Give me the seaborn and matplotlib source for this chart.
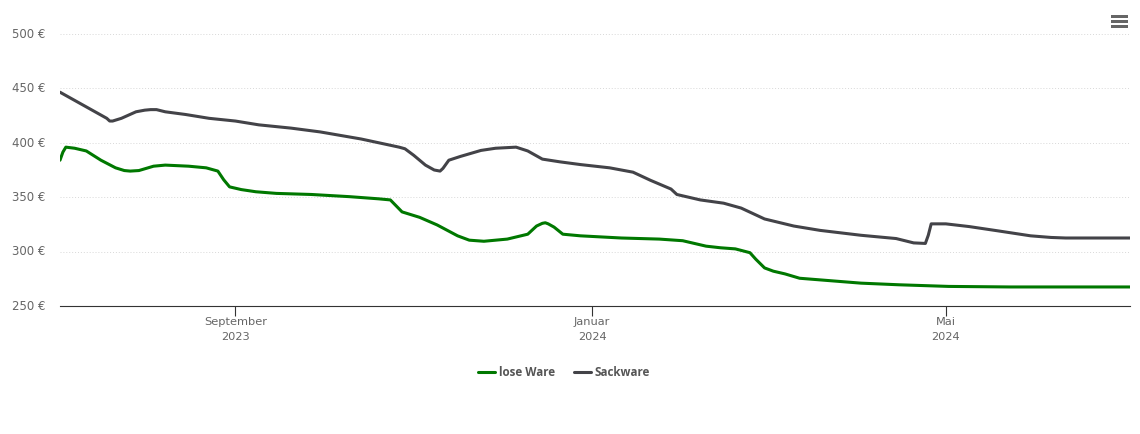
import pandas as pd
import matplotlib
matplotlib.use("Agg")
import matplotlib.pyplot as plt
from matplotlib.patches import Rectangle
from matplotlib.transforms import ScaledTranslation
import seaborn as sns

# Sackware prices
sack_dates = ["2023-07-03", "2023-07-19", "2023-07-20", "2023-07-21", "2023-07-24", "2023-07-29",
              "2023-08-01", "2023-08-03", "2023-08-05", "2023-08-08", "2023-08-15", "2023-08-23", "2023-09-01",
              "2023-09-09", "2023-09-20", "2023-09-30", "2023-10-14", "2023-10-27", "2023-10-29",
              "2023-11-01", "2023-11-05", "2023-11-08", "2023-11-10", "2023-11-11", "2023-11-13",
              "2023-11-17", "2023-11-24", "2023-11-29", "2023-12-06", "2023-12-10", "2023-12-15",
              "2023-12-21", "2023-12-28", "2024-01-07", "2024-01-15", "2024-01-21", "2024-01-28",
              "2024-01-30", "2024-02-07", "2024-02-15", "2024-02-21", "2024-02-25", "2024-02-29", "2024-03-10",
              "2024-03-19", "2024-04-02", "2024-04-14", "2024-04-20", "2024-04-24", "2024-04-25",
              "2024-04-26", "2024-05-01", "2024-05-09", "2024-05-19", "2024-05-30", "2024-06-06",
              "2024-06-11", "2024-07-03"]
sack_prices = [446.5, 422.5, 420, 420, 422.5, 428.5,
               430, 430.5, 430.5, 428.5, 426, 422.5, 420,
               416.5, 413.5, 410, 403.5, 396, 394.5,
               388.5, 379.5, 375, 374, 376.5, 384,
               387.5, 393, 395, 396, 392.5, 385,
               382.5, 380, 377, 373, 365.5, 357.5,
               352.5, 347.5, 344.5, 340, 335, 330, 323.5,
               319.5, 315, 312, 308, 307.5, 315,
               325.5, 325.5, 323, 319, 314.5, 313,
               312.5, 312.5]

# lose Ware prices
lose_dates = ["2023-07-03", "2023-07-04", "2023-07-05", "2023-07-08", "2023-07-12", "2023-07-17",
              "2023-07-22", "2023-07-25", "2023-07-27", "2023-07-30", "2023-08-04", "2023-08-08", "2023-08-16",
              "2023-08-22", "2023-08-26", "2023-08-28", "2023-08-30", "2023-09-03", "2023-09-08",
              "2023-09-15", "2023-09-27", "2023-10-10", "2023-10-20", "2023-10-24", "2023-10-26",
              "2023-10-28", "2023-11-03", "2023-11-09", "2023-11-16", "2023-11-20", "2023-11-25",
              "2023-12-03", "2023-12-10", "2023-12-11", "2023-12-13", "2023-12-15", "2023-12-16", "2023-12-17",
              "2023-12-19", "2023-12-22",
              "2023-12-28", "2024-01-11", "2024-01-24", "2024-02-01", "2024-02-09", "2024-02-14",
              "2024-02-19", "2024-02-24", "2024-02-26", "2024-02-29", "2024-03-03", "2024-03-07", "2024-03-12",
              "2024-03-19", "2024-04-02", "2024-04-15", "2024-05-02", "2024-05-23", "2024-07-03"]
lose_prices = [384, 391.5, 396, 395, 392.5, 384,
               377, 374.5, 374, 374.5, 378.5, 379.5, 378.5,
               377, 374, 366, 359.5, 357, 355,
               353.5, 352.5, 350.5, 348.5, 347.5, 342,
               336.5, 331.5, 324.5, 314.5, 310.5, 309.5,
               311.5, 316, 318.5, 323.5, 326, 326.5, 325.5,
               322.5, 316,
               314.5, 312.5, 311.5, 310, 305, 303.5,
               302.5, 299, 293, 285, 282, 279.5, 275.5,
               274, 271, 269.5, 268, 267.5, 267.5]

y_ticks = [250, 300, 350, 400, 450, 500]
x_ticks = ["2023-09-01", "2024-01-01", "2024-05-01"]
x_labels = ["September\n2023", "Januar\n2024", "Mai\n2024"]

GREEN = "#007800"
DARK = "#434348"
GREY = "#666666"

sns.set_style("white")
plt.rcParams["font.family"] = ["DejaVu Sans"]

fig = plt.figure(figsize=(11.4, 4.34), dpi=100)
ax = fig.add_axes([60 / 1140, 1 - 306 / 434, 1070 / 1140, 272 / 434])

sns.lineplot(x=pd.to_datetime(lose_dates), y=lose_prices, color=GREEN, linewidth=2.2,
             label="lose Ware", ax=ax, solid_joinstyle="round", zorder=3)
sns.lineplot(x=pd.to_datetime(sack_dates), y=sack_prices, color=DARK, linewidth=2.2,
             label="Sackware", ax=ax, solid_joinstyle="round", zorder=3)

ax.set_xlim(pd.Timestamp("2023-07-03"), pd.Timestamp("2024-07-03"))
ax.set_ylim(250, 500)
ax.set_xticks(pd.to_datetime(x_ticks))
ax.set_xticklabels(x_labels, linespacing=1.6)
ax.set_yticks(y_ticks)
ax.set_yticklabels([f"{v} €" for v in y_ticks])
ax.set_xlabel("")
ax.set_ylabel("")

ax.grid(axis="y", color="#d8d8d8", linewidth=0.7, linestyle=(0, (1, 2)))
ax.tick_params(axis="x", bottom=True, length=7, width=0.8, color="#333333",
               labelcolor=GREY, labelsize=8.2, pad=1.2)
ax.tick_params(axis="y", length=0, labelcolor=GREY, labelsize=8.5, pad=10.8)

# y labels sit a little above their grid lines
for label in ax.get_yticklabels():
    label.set_transform(label.get_transform() + ScaledTranslation(0, 0.8 / 72, fig.dpi_scale_trans))

for side in ["top", "right", "left"]:
    ax.spines[side].set_visible(False)
ax.spines["bottom"].set_color("#333333")
ax.spines["bottom"].set_linewidth(0.8)

leg = ax.legend(loc="center", bbox_to_anchor=(564 / 1140, 1 - 373 / 434),
                bbox_transform=fig.transFigure, frameon=False, ncol=2,
                handlelength=1.5, handletextpad=0.3, columnspacing=1.6,
                prop={"family": "Open Sans", "size": 8.4, "weight": "bold"})
for text in leg.get_texts():
    text.set_color("#555555")

# menu icon top right
for top in [15, 20, 25]:
    fig.add_artist(Rectangle((1110.5 / 1140, 1 - (top + 2.8) / 434), 17 / 1140, 2.8 / 434,
                             transform=fig.transFigure, color=GREY, linewidth=0))

fig.savefig("out.png", dpi=100)
plt.close(fig)
